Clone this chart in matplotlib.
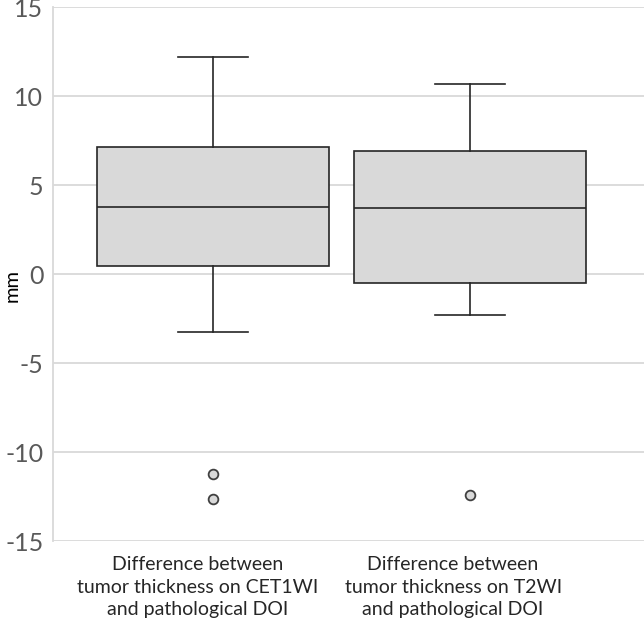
import matplotlib
matplotlib.use("Agg")
import matplotlib.pyplot as plt

# values (mm)
categories = ["Difference between\ntumor thickness on CET1WI\nand pathological DOI",
              "Difference between\ntumor thickness on T2WI\nand pathological DOI"]
q1 = [0.45, -0.51]
median = [3.76, 3.71]
q3 = [7.13, 6.91]
whisker_low = [-3.26, -2.30]
whisker_high = [12.19, 10.67]
outliers = [[-11.24, -12.64], [-12.42]]
yticks = [-15, -10, -5, 0, 5, 10, 15]

GRID = "#d9d9d9"
BOX = "#d9d9d9"
EDGE = "#262626"
TICK = "#595959"

plt.rcParams["font.family"] = ["Lato", "DejaVu Sans"]

fig = plt.figure(figsize=(6.44, 6.22), dpi=100)
ax = fig.add_axes([0.0823, 0.1302, 0.9177, 0.8585])

stats = []
for i in range(len(categories)):
    stats.append(dict(med=median[i], q1=q1[i], q3=q3[i],
                      whislo=whisker_low[i], whishi=whisker_high[i],
                      fliers=outliers[i]))

ax.bxp(stats, positions=[1, 2], widths=0.9, patch_artist=True,
       showcaps=True, capwidths=0.27,
       boxprops=dict(facecolor=BOX, edgecolor=EDGE, linewidth=1.2),
       medianprops=dict(color=EDGE, linewidth=1.2),
       whiskerprops=dict(color=EDGE, linewidth=1.2),
       capprops=dict(color=EDGE, linewidth=1.2),
       flierprops=dict(marker="o", markersize=7, markerfacecolor=BOX,
                       markeredgecolor="#404040", markeredgewidth=1.3),
       zorder=3)

ax.set_xlim(0.377, 2.677)
ax.set_ylim(-15, 15)
ax.set_yticks(yticks)
ax.set_yticklabels([str(t) for t in yticks], fontsize=18, color=TICK)
ax.tick_params(axis="y", length=0, pad=7)
ax.set_xticks([])
ax.grid(True, axis="y", color=GRID, linewidth=1.3, zorder=0)
ax.set_axisbelow(True)
for side in ["top", "right", "bottom"]:
    ax.spines[side].set_visible(False)
ax.spines["left"].set_color(GRID)
ax.spines["left"].set_linewidth(1.3)

for x, label in zip([0.938, 1.934], categories):
    ax.text(x, -15.85, label, ha="center", va="top", fontsize=14,
            color="#262626", linespacing=1.4)

fig.text(0.006, 0.541, "mm", rotation=90, ha="left", va="center",
         fontsize=14.5, color="black")

fig.savefig("out.png", dpi=100)
